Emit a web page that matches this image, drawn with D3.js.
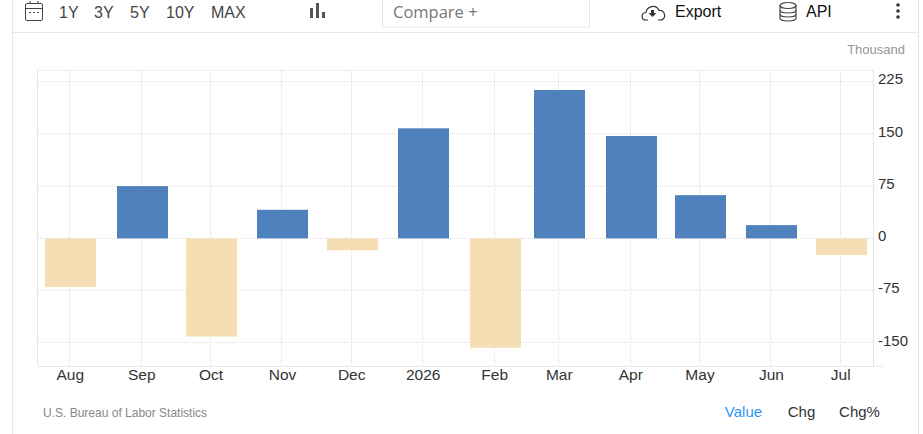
<!DOCTYPE html>
<html><head><meta charset="utf-8">
<script src="https://cdn.jsdelivr.net/npm/d3@7/dist/d3.min.js"></script>
<style>html,body{margin:0;padding:0;background:#fff;overflow:hidden}svg{display:block}text{font-family:"Liberation Sans",Arial,sans-serif}</style>
</head><body><svg id="c" width="923" height="434"></svg>
<script>
const months=["2025-08-01","2025-09-01","2025-10-01","2025-11-01","2025-12-01","2026-01-01","2026-02-01","2026-03-01","2026-04-01","2026-05-01","2026-06-01","2026-07-01"];
const monthLabels=["Aug","Sep","Oct","Nov","Dec","2026","Feb","Mar","Apr","May","Jun","Jul"];
const values=[-70,75,-141,41,-17,158,-157,213,147,62,19,-24];
const yTicks=[225,150,75,0,-75,-150];
const rangeButtons=["1Y","3Y","5Y","10Y","MAX"];
const rangeX=[59,94,130,166,211];
const modes=["Value","Chg","Chg%"];
const modeX=[743.5,801.5,859.5];

const svg=d3.select("#c");
const parse=d3.utcParse("%Y-%m-%d");
const dates=months.map(parse);
const x=d3.scaleUtc().domain([parse("2025-07-18"),parse("2026-07-15")]).range([38,873]);
const y=d3.scaleLinear().domain([241,-184]).range([70.5,366.5]);
const line="#e6e6e6", grid="#dedede";
const gx=d=>Math.floor(x(d)-.7)+.5, gy=d=>Math.floor(y(d))+.5;

// frame
svg.append("line").attr("x1",12.5).attr("x2",12.5).attr("y1",0).attr("y2",434).attr("stroke",line);
svg.append("line").attr("x1",918.5).attr("x2",918.5).attr("y1",0).attr("y2",434).attr("stroke",line);
svg.append("line").attr("x1",13).attr("x2",918).attr("y1",32.5).attr("y2",32.5).attr("stroke",line);

// grid
const g=svg.append("g");
g.selectAll(".v").data(dates).join("line").attr("x1",gx).attr("x2",gx)
 .attr("y1",70).attr("y2",366).attr("stroke",grid).attr("stroke-dasharray","1 1");
g.selectAll(".h").data(yTicks).join("line").attr("x1",38).attr("x2",873).attr("y1",gy).attr("y2",gy)
 .attr("stroke",grid).attr("stroke-dasharray","1 1");
g.append("line").attr("x1",38).attr("x2",873).attr("y1",70.5).attr("y2",70.5).attr("stroke",grid).attr("stroke-dasharray","1 1");
g.append("line").attr("x1",37.5).attr("x2",37.5).attr("y1",70).attr("y2",366).attr("stroke",line);
g.append("line").attr("x1",873.5).attr("x2",873.5).attr("y1",70).attr("y2",366).attr("stroke",line);
g.append("line").attr("x1",38).attr("x2",883).attr("y1",366.5).attr("y2",366.5).attr("stroke",line);

// bars
svg.append("g").selectAll("rect").data(values).join("rect")
 .attr("x",(d,i)=>Math.round(x(dates[i])-25.1)).attr("width",51)
 .attr("y",d=>y(Math.max(d,0))).attr("height",d=>Math.abs(y(d)-y(0)))
 .attr("fill",d=>d>=0?"#4f81bd":"#f5deb3");

// axes text
svg.append("g").selectAll("text").data(monthLabels).join("text")
 .attr("x",(d,i)=>x(dates[i])).attr("y",380).attr("text-anchor","middle")
 .attr("font-size",15.5).attr("fill","#333").text(d=>d);
svg.append("g").selectAll("text").data(yTicks).join("text")
 .attr("x",878).attr("y",d=>y(d)+2.7)
 .attr("font-size",15).attr("fill","#333").text(d=>d);
svg.append("text").attr("x",905).attr("y",54).attr("text-anchor","end").attr("font-size",13).attr("fill","#949494").text("Thousand");
svg.append("text").attr("x",43).attr("y",417).attr("font-size",12).attr("fill","#888").text("U.S. Bureau of Labor Statistics");

// footer modes
svg.append("g").selectAll("text").data(modes).join("text")
 .attr("x",(d,i)=>modeX[i]).attr("y",417).attr("text-anchor","middle").attr("font-size",15)
 .attr("fill",(d,i)=>i==0?"#2f95f5":"#333").text(d=>d);

// toolbar
svg.append("g").selectAll("text").data(rangeButtons).join("text")
 .attr("x",(d,i)=>rangeX[i]).attr("y",18).attr("font-size",16).attr("fill","#444").text(d=>d);
svg.append("rect").attr("x",382.5).attr("y",-2).attr("width",207).attr("height",29).attr("fill","#fff").attr("stroke",line);
svg.append("text").attr("x",393).attr("y",18).attr("font-size",16.5).attr("fill","#777").style("font-family","'Open Sans'").text("Compare +");
svg.append("text").attr("x",675).attr("y",17).attr("font-size",16).attr("fill","#111").text("Export");
svg.append("text").attr("x",806).attr("y",17).attr("font-size",16).attr("fill","#111").text("API");

// icons
const ic=svg.append("g").attr("fill","none").attr("stroke","#444");
ic.append("rect").attr("x",25.5).attr("y",3.5).attr("width",17).attr("height",17).attr("rx",1.5);
ic.append("path").attr("d","M26 8.5H42M30 1V3.5M38 1V3.5");
ic.append("path").attr("d","M29 12.5H31M33 12.5H35M37 12.5H39").attr("stroke-width",1.2);
const bi=svg.append("g").attr("fill","#555");
bi.append("rect").attr("x",310).attr("y",8).attr("width",3).attr("height",10);
bi.append("rect").attr("x",316).attr("y",3).attr("width",3).attr("height",15);
bi.append("rect").attr("x",322).attr("y",12).attr("width",3).attr("height",6);
ic.append("path").attr("d","M648 20H646C641 20 640.5 13 646 12.5C647 6 656 4 659 10.5C665 9 667.5 20 660 20H658").attr("stroke","#333").attr("stroke-width",1.2);
svg.append("path").attr("d","M651 10H654V13H656.5L652.5 17L648.5 13H651Z").attr("fill","#333");
const db=svg.append("g").attr("fill","none").attr("stroke","#444").attr("stroke-width",1.2);
db.append("ellipse").attr("cx",788).attr("cy",5.5).attr("rx",8).attr("ry",3);
db.append("path").attr("d","M780 5.5V18C780 22 796 22 796 18V5.5M780 10C780 14 796 14 796 10M780 14C780 18 796 18 796 14");
svg.append("g").attr("fill","#333").selectAll("circle").data([5,11,17]).join("circle").attr("cx",898).attr("cy",d=>d).attr("r",1.8);
</script></body></html>
